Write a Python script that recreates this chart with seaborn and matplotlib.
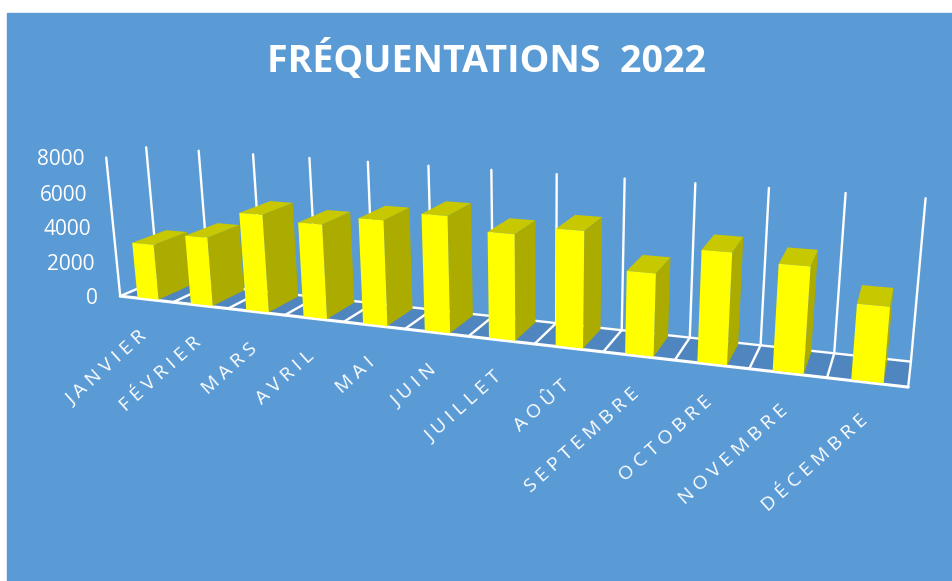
import numpy as np
import pandas as pd
import seaborn as sns
import matplotlib.pyplot as plt
from matplotlib.patches import Rectangle

mois = ['JANVIER', 'FÉVRIER', 'MARS', 'AVRIL', 'MAI', 'JUIN', 'JUILLET', 'AOÛT',
        'SEPTEMBRE', 'OCTOBRE', 'NOVEMBRE', 'DÉCEMBRE']
frequentations = [3200, 3900, 5450, 5200, 5700, 6200, 5550, 6000, 4200, 5550, 5200, 3650]
graduations = [0, 2000, 4000, 6000, 8000]

W, H = 953, 581
VMAX = 8000
DEPTH_FRONT, DEPTH_BACK = 0.04, 0.93

# reperes de la perspective, en pixels
avant_x = [118, 173, 230, 285, 345, 405, 468, 535, 603, 675, 748, 827, 908]
haut_x = [147, 199, 253, 309, 368, 429, 491, 556, 624, 694, 769, 846, 927]
haut_y = [147, 151, 155, 158, 162, 166, 170, 174, 179, 183, 187, 193, 198]

sns.set_theme(style='white')
plt.rcParams['font.family'] = ['Open Sans', 'DejaVu Sans']

fig = plt.figure(figsize=(W / 100, H / 100), dpi=100, facecolor='white')
ax = fig.add_axes([0, 0, 1, 1])

df = pd.DataFrame({'mois': mois, 'frequentations': frequentations})
sns.barplot(data=df, x='mois', y='frequentations', width=0.4, color='#FFFF00', ax=ax)
bars = [(p.get_x() + p.get_width() / 2 + 0.5, p.get_width(), p.get_height()) for p in ax.patches]
for p in list(ax.patches):
    p.remove()

ax.set_xlim(0, W)
ax.set_ylim(H, 0)
ax.axis('off')

n = len(mois)


# camera 3x4 : (mois, profondeur, valeur) vers les pixels
def camera(reperes):
    rows = []
    for (x, d, v), (u, w) in reperes:
        X = [x / n, d, v / VMAX, 1]
        rows.append(X + [0, 0, 0, 0] + [-u * c for c in X])
        rows.append([0, 0, 0, 0] + X + [-w * c for c in X])
    return np.linalg.svd(np.array(rows, dtype=float))[2][-1].reshape(3, 4)


reperes = [((i, 0, 0), (px, 296 + 0.1152 * (px - 118))) for i, px in enumerate(avant_x)]
reperes += [((i, 1, VMAX), (px, py)) for i, (px, py) in enumerate(zip(haut_x, haut_y))]
reperes += [((0, 0, VMAX), (106, 157)), ((n, 1, 0), (911, 362)), ((0, 1, 0), (158, 279))]
P = camera(reperes)


def proj(x, d, v):
    p = P @ np.array([x / n, d, v / VMAX, 1.0])
    return p[0] / p[2], p[1] / p[2]


ax.add_patch(Rectangle((7, 13), W - 7, H - 13, color='#5B9BD5', zorder=0))

# plancher et grille
ax.fill(*zip(proj(0, 0, 0), proj(n, 0, 0), proj(n, 1, 0), proj(0, 1, 0)), color='#4F86C0', zorder=1)
for i in range(n + 1):
    ax.plot(*zip(proj(i, 0, 0), proj(i, 1, 0)), color='white', lw=1.7, zorder=2)
    ax.plot(*zip(proj(i, 1, 0), proj(i, 1, VMAX)), color='white', lw=1.7, zorder=2)
ax.plot(*zip(proj(0, 1, 0), proj(n, 1, 0)), color='white', lw=1.7, zorder=2)
ax.plot(*zip(proj(0, 0, 0), proj(n, 0, 0)), color='white', lw=2.2, zorder=2)
ax.plot(*zip(proj(0, 0, 0), proj(0, 0, VMAX)), color='white', lw=1.7, zorder=2)

# barres, de gauche a droite
for i, (x, w, h) in enumerate(bars):
    z = 3 + i
    x0, x1 = x - w / 2, x + w / 2
    d0, d1 = DEPTH_FRONT, DEPTH_BACK
    ax.fill(*zip(proj(x1, d0, 0), proj(x1, d1, 0), proj(x1, d1, h), proj(x1, d0, h)),
            color='#ABAB00', lw=0, zorder=z)
    ax.fill(*zip(proj(x0, d0, h), proj(x1, d0, h), proj(x1, d1, h), proj(x0, d1, h)),
            color='#C8C800', lw=0, zorder=z)
    ax.fill(*zip(proj(x0, d0, 0), proj(x1, d0, 0), proj(x1, d0, h), proj(x0, d0, h)),
            color='#FFFF00', lw=0, zorder=z)

for g in graduations:
    px, py = proj(0, 0, g)
    ax.text(px - 22, py + 2, str(g), color='white', fontsize=15, ha='right', va='center')

for i, m in enumerate(mois):
    px, py = proj(i + 0.5, 0, 0)
    ax.text(px - 2, py + 35, '\u2005'.join(m), color='white', fontsize=14, rotation=42,
            rotation_mode='anchor', ha='right', va='center')

ax.text(487, 60, 'FRÉQUENTATIONS  2022', color='white', fontsize=27, fontweight='bold',
        ha='center', va='center')

fig.savefig('out.png', dpi=100)
